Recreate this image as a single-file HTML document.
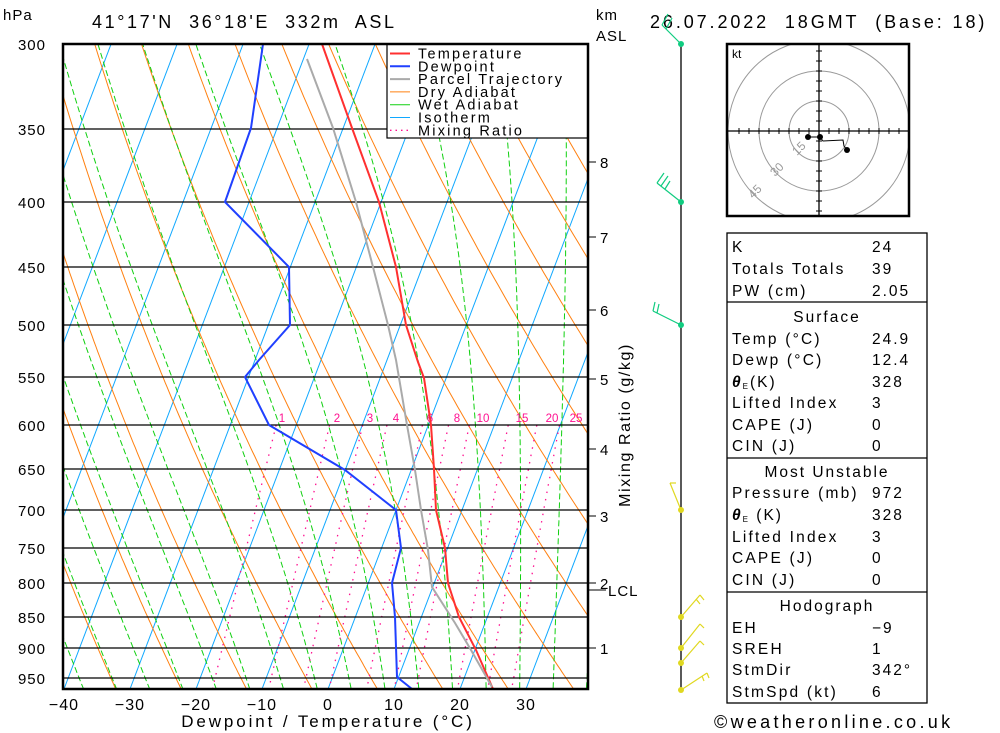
<!DOCTYPE html>
<html><head><meta charset="utf-8"><style>
html,body{margin:0;padding:0;background:#fff;}
svg{display:block;font-family:"Liberation Sans",sans-serif;}
</style></head><body>
<svg id="s" width="1000" height="733" viewBox="0 0 1000 733" xmlns="http://www.w3.org/2000/svg">
<defs><clipPath id="pc"><rect x="63" y="44" width="525" height="645"/></clipPath>
<clipPath id="hc"><rect x="727" y="44" width="182" height="172"/></clipPath></defs>
<g id="bg" clip-path="url(#pc)"></g>
<g id="fg"></g>
</svg>
<script>
var NS="http://www.w3.org/2000/svg",S=document.getElementById('s'),BG=document.getElementById('bg'),FG=document.getElementById('fg');
function el(t,a,p,txt){if(typeof p==='string'){txt=p;p=null;}var e=document.createElementNS(NS,t);for(var k in a)e.setAttribute(k,a[k]);if(txt!==undefined)e.textContent=txt;(p||FG).appendChild(e);return e;}
function Y(p){return 44+550*Math.log(p/300);}
function X(T,y){return 328+6.6*T+0.38*(689-y);}
function pl(pts,a,p){a.points=pts.map(function(q){return q[0].toFixed(1)+','+q[1].toFixed(1)}).join(' ');a.fill='none';return el('polyline',a,p);}
var ps=[];for(var p=250;p<=1000;p+=5)ps.push(p);
for(var T=-140;T<=50;T+=10){var y1=Y(969),y2=Y(280);el('line',{x1:X(T,y1),y1:y1,x2:X(T,y2),y2:y2,stroke:'#10a8ff','stroke-width':1},BG);}
for(var th=-40;th<=180;th+=10){var pts=ps.map(function(p){var T=(th+273.15)*Math.pow(p/1000,0.286)-273.15;var y=Y(p);return [X(T,y),y];});pl(pts,{stroke:'#ff8010','stroke-width':1},BG);}
function es(T){return 6.112*Math.exp(17.67*T/(T+243.5));}
for(var tw=-45;tw<=40;tw+=5){var T=tw+273.15,p=1000,pts=[];while(p>=250){var y=Y(p);pts.push([X(T-273.15,y),y]);var e=es(T-273.15),rs=0.622*e/(p-e);var d=(287*T+2.5e6*rs)/(1005+2.5e6*2.5e6*rs*0.622/(287*T*T))/p;T-=d*5;p-=5;}pl(pts,{stroke:'#10d010','stroke-width':1,'stroke-dasharray':'6,3'},BG);}
var ws=[1,2,3,4,6,8,10,15,20,25];
ws.forEach(function(w){var pts=[];for(var p=600;p<=980;p+=5){var e=w*p/(622+w),l=Math.log(e/6.112),T=243.5*l/(17.67-l),y=Y(p);pts.push([X(T,y),y]);}pl(pts,{stroke:'#ff1090','stroke-width':1.3,'stroke-dasharray':'1.5,6'},BG);});
[300,350,400,450,500,550,600,650,700,750,800,850,900,950].forEach(function(p){var y=Math.round(Y(p));el('line',{x1:63,y1:y,x2:588,y2:y,stroke:'#000','stroke-width':1.3});el('text',{x:46,y:y+6,'font-size':15,'text-anchor':'end','letter-spacing':'1'},String(p));});
el('rect',{x:387,y:44,width:201,height:94,fill:'#fff',stroke:'#000','stroke-width':1.2});
var lg=[['Temperature','#ff3030',2],['Dewpoint','#2040ff',2],['Parcel Trajectory','#aaa',2],['Dry Adiabat','#ff8010',1],['Wet Adiabat','#10d010',1],['Isotherm','#10a8ff',1],['Mixing Ratio','#ff1090',1.3]];
lg.forEach(function(l,i){var y=53.5+i*12.8;el('line',{x1:390,y1:y,x2:410,y2:y,stroke:l[1],'stroke-width':l[2],'stroke-dasharray':i==6?'1.5,4':'none'});el('text',{x:418,y:y+5,'font-size':14.5,'letter-spacing':'2.2'},l[0]);});
var mx={1:282,2:337,3:370,4:396,6:430,8:457,10:483,15:522,20:552,25:576};
ws.forEach(function(w){el('text',{x:mx[w],y:422,'font-size':11.5,fill:'#ff1090','text-anchor':'middle'},String(w));});
pl([[322,44],[352,128],[379,202],[396,267],[406,325],[418,362],[424,378],[431,425],[434,469],[436,510],[445,548],[448,583],[459,617],[476,650],[493,689]],{stroke:'#ff3030','stroke-width':2});
pl([[263,44],[251,128],[225,202],[289,267],[290,325],[259,360],[245,377],[269,425],[345,470],[396,510],[401,548],[392,583],[395,617],[397,677],[412,689]],{stroke:'#2040ff','stroke-width':2});
pl([[307,59],[333,128],[356,202],[373,267],[388,325],[396,360],[407,425],[415,470],[421,510],[428,550],[432,587],[455,623],[471,650],[492,687]],{stroke:'#aaa','stroke-width':2});
el('rect',{x:63,y:44,width:525,height:645,fill:'none',stroke:'#000','stroke-width':2.5});
[-40,-30,-20,-10,0,10,20,30].forEach(function(t){el('text',{x:328+6.6*t,y:710,'font-size':16,'text-anchor':'middle','letter-spacing':'1'},(t<0?'\u2212':'')+Math.abs(t));});
el('text',{x:328,y:727,'font-size':17,'text-anchor':'middle','letter-spacing':'2.9'},'Dewpoint / Temperature (\u00b0C)');
el('text',{x:3,y:20,'font-size':15,'letter-spacing':'1'},'hPa');
el('text',{x:92,y:28,'font-size':18,'letter-spacing':'2.6'},"41\u00b017'N\u00a0 36\u00b018'E\u00a0 332m\u00a0 ASL");
el('text',{x:650,y:28,'font-size':18,'letter-spacing':'2.9'},"26.07.2022\u00a0 18GMT\u00a0 (Base: 18)");
el('text',{x:596,y:20,'font-size':15,'letter-spacing':'1'},'km');
el('text',{x:596,y:41,'font-size':15,'letter-spacing':'1'},'ASL');
[[8,162],[7,237],[6,310],[5,379],[4,449],[3,516],[2,583],[1,648]].forEach(function(k){el('line',{x1:588,y1:k[1],x2:596,y2:k[1],stroke:'#000'});el('text',{x:600,y:k[1]+6,'font-size':15},String(k[0]));});
el('line',{x1:588,y1:590,x2:606,y2:590,stroke:'#000'});
el('text',{x:608,y:596,'font-size':15,'letter-spacing':'1'},'LCL');
el('text',{x:0,y:0,'font-size':16,'text-anchor':'middle','letter-spacing':'1.6','transform':'translate(630,425) rotate(-90)'},'Mixing Ratio (g/kg)');
el('line',{x1:681,y1:44,x2:681,y2:689,stroke:'#000','stroke-width':1.3});
function barb(x,y,x2,y2,col,f){el('line',{x1:x,y1:y,x2:x2,y2:y2,stroke:col,'stroke-width':1.2});f.forEach(function(s){el('line',{x1:s[0],y1:s[1],x2:s[2],y2:s[3],stroke:col,'stroke-width':1.2});});el('circle',{cx:x,cy:y,r:3,fill:col});}
var G='#10cc80',Yc='#e0d820';
barb(681,44,662,25,G,[[662,25,668,14],[666,29,672,18]]);
barb(681,202,657,183,G,[[657,183,664,173],[661,186,668,176],[665,189,670,181]]);
barb(681,325,653,311,G,[[653,311,655,302],[657,313,659,304]]);
barb(681,510,670,483,Yc,[[670,483,676,483]]);
barb(681,617,700,595,Yc,[[700,595,704,600],[696,599,700,604]]);
barb(681,648,700,624,Yc,[[700,624,704,628]]);
barb(681,663,700,641,Yc,[[700,641,704,645]]);
barb(681,690,707,673,Yc,[[707,673,709,678],[702,676,704,681]]);
var H=el('g',{'clip-path':'url(#hc)'});
[30,60,91].forEach(function(r){el('circle',{cx:819,cy:131,r:r,fill:'none',stroke:'#999','stroke-width':1},H);});
el('line',{x1:727,y1:131,x2:909,y2:131,stroke:'#000','stroke-width':1.3},H);
el('line',{x1:819,y1:44,x2:819,y2:216,stroke:'#000','stroke-width':1.3},H);
for(var i=-8;i<=8;i++){if(!i)continue;el('line',{x1:819+i*10,y1:128,x2:819+i*10,y2:134,stroke:'#000'},H);el('line',{x1:816,y1:131+i*10,x2:822,y2:131+i*10,stroke:'#000'},H);}
el('text',{x:0,y:0,'font-size':12,fill:'#999',transform:'translate(797,156) rotate(-45)'},'15');
el('text',{x:0,y:0,'font-size':12,fill:'#999',transform:'translate(775,177) rotate(-45)'},'30');
el('text',{x:0,y:0,'font-size':12,fill:'#999',transform:'translate(753,199) rotate(-45)'},'45');
pl([[808,137],[820,137],[823,141],[843,140],[844,146],[847,150]],{stroke:'#000','stroke-width':1});
[[808,137],[820,137],[847,150]].forEach(function(c){el('circle',{cx:c[0],cy:c[1],r:3,fill:'#000'});});
el('rect',{x:727,y:44,width:182,height:172,fill:'none',stroke:'#000','stroke-width':2.5});
el('text',{x:732,y:58,'font-size':12},'kt');
el('rect',{x:727,y:233,width:200,height:470,fill:'none',stroke:'#000','stroke-width':1.3});
[302,458,592].forEach(function(y){el('line',{x1:727,y1:y,x2:927,y2:y,stroke:'#000','stroke-width':1.3});});
var rows=[['K','24',246],['Totals Totals','39',268],['PW (cm)','2.05',290],['#Surface','',316],['Temp (\u00b0C)','24.9',338],['Dewp (\u00b0C)','12.4',359],['\u03b8E(K)','328',381],['Lifted Index','3',402],['CAPE (J)','0',424],['CIN (J)','0',445],['#Most Unstable','',471],['Pressure (mb)','972',492],['\u03b8E (K)','328',514],['Lifted Index','3',536],['CAPE (J)','0',557],['CIN (J)','0',579],['#Hodograph','',605],['EH','\u22129',627],['SREH','1',648],['StmDir','342\u00b0',669],['StmSpd (kt)','6',691]];
rows.forEach(function(r){if(r[0][0]=='#'){el('text',{x:827,y:r[2]+6,'font-size':15.5,'text-anchor':'middle','letter-spacing':'2'},r[0].slice(1));return;}
if(r[0][0]=='\u03b8'){var t=el('text',{x:732,y:r[2]+6,'font-size':15.5,'letter-spacing':'2'});var a=document.createElementNS(NS,'tspan');a.setAttribute('font-style','italic');a.setAttribute('font-weight','bold');a.textContent='\u03b8';t.appendChild(a);var b=document.createElementNS(NS,'tspan');b.setAttribute('font-size','8');b.setAttribute('dy','2');b.textContent='E';t.appendChild(b);var c=document.createElementNS(NS,'tspan');c.setAttribute('dy','-2');c.textContent=r[0].slice(2);t.appendChild(c);}
else el('text',{x:732,y:r[2]+6,'font-size':15.5,'letter-spacing':'2.2'},r[0]);
el('text',{x:872,y:r[2]+6,'font-size':15.5,'letter-spacing':'2'},r[1]);});
el('text',{x:714,y:728,'font-size':18,'letter-spacing':'3.3'},'\u00a9weatheronline.co.uk');
</script>
</body></html>
